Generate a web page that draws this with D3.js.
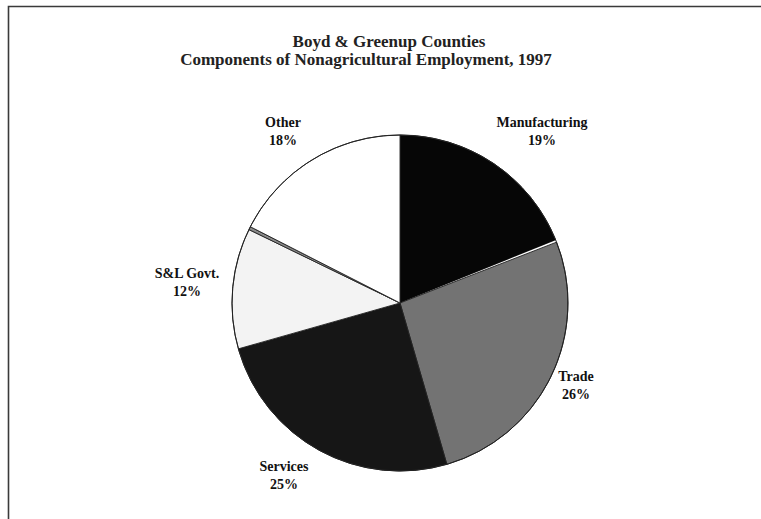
<!DOCTYPE html>
<html>
<head>
<meta charset="utf-8">
<script src="https://cdn.jsdelivr.net/npm/d3@7"></script>
<style>
  html, body { margin: 0; padding: 0; background: #fff; }
  svg { display: block; }
  .lbl { font-family: "Liberation Serif", "Times New Roman", serif; font-weight: 700; fill: #111; }
</style>
</head>
<body>
<div id="chart"></div>
<script>
// Data - slices go clockwise from 12 o'clock
const categories = ["Manufacturing", "", "Trade", "Services", "S&L Govt.", "", "Other"];
const shares     = [18.9, 0.2, 26.4, 25.1, 11.6, 0.3, 17.5];
const fills      = ["#060606", "#ffffff", "#737373", "#161616", "#f3f3f3", "#8a8a8a", "#ffffff"];
// label anchor points (x, y of first line) per labelled slice
const labelPos = {
  "Manufacturing": [542, 127],
  "Trade": [576, 381],
  "Services": [284, 471],
  "S&L Govt.": [187, 278],
  "Other": [283, 127]
};
const titleLines = ["Boyd & Greenup Counties", "Components of Nonagricultural Employment, 1997"];
const titleX = [389, 366];

const W = 761, H = 519;
const cx = 400, cy = 303, R = 168;

const svg = d3.select("#chart").append("svg")
  .attr("width", W)
  .attr("height", H);

// frame (only left + top edges visible in the scan)
svg.append("path")
  .attr("d", `M8.5,${H} L8.5,6.5 L${W},6.5`)
  .attr("fill", "none")
  .attr("stroke", "#3a3a3a")
  .attr("stroke-width", 1.6);

// title
svg.selectAll(".title")
  .data(titleLines)
  .enter().append("text")
  .attr("class", "lbl title")
  .attr("x", (d, i) => titleX[i])
  .attr("y", (d, i) => 47 + i * 18)
  .attr("text-anchor", "middle")
  .style("font-size", "17px")
  .style("fill", "#222")
  .text(d => d);

const data = categories.map((c, i) => ({ name: c, value: shares[i], fill: fills[i] }));
const total = d3.sum(shares);

const pie = d3.pie().sort(null).value(d => d.value).startAngle(0).endAngle(2 * Math.PI);
const arc = d3.arc().innerRadius(0).outerRadius(R);

const g = svg.append("g").attr("transform", `translate(${cx},${cy})`);

g.selectAll(".slice")
  .data(pie(data))
  .enter().append("path")
  .attr("class", "slice")
  .attr("d", arc)
  .attr("fill", d => d.data.fill)
  .attr("stroke", d => d.data.name === "" && d.data.fill === "#ffffff" ? "none" : "#222")
  .attr("stroke-width", 0.9)
  .attr("stroke-linejoin", "round");

// outer outline
g.append("circle")
  .attr("r", R)
  .attr("fill", "none")
  .attr("stroke", "#222")
  .attr("stroke-width", 1);

// labels
const labelled = data.filter(d => d.name !== "");
const lg = svg.selectAll(".plabel")
  .data(labelled)
  .enter().append("text")
  .attr("class", "lbl plabel")
  .attr("text-anchor", "middle")
  .style("font-size", "14px");

lg.append("tspan")
  .attr("x", d => labelPos[d.name][0])
  .attr("y", d => labelPos[d.name][1])
  .text(d => d.name);

lg.append("tspan")
  .attr("x", d => labelPos[d.name][0])
  .attr("y", d => labelPos[d.name][1] + 18)
  .text(d => Math.round(d.value / total * 100) + "%");
</script>
</body>
</html>
